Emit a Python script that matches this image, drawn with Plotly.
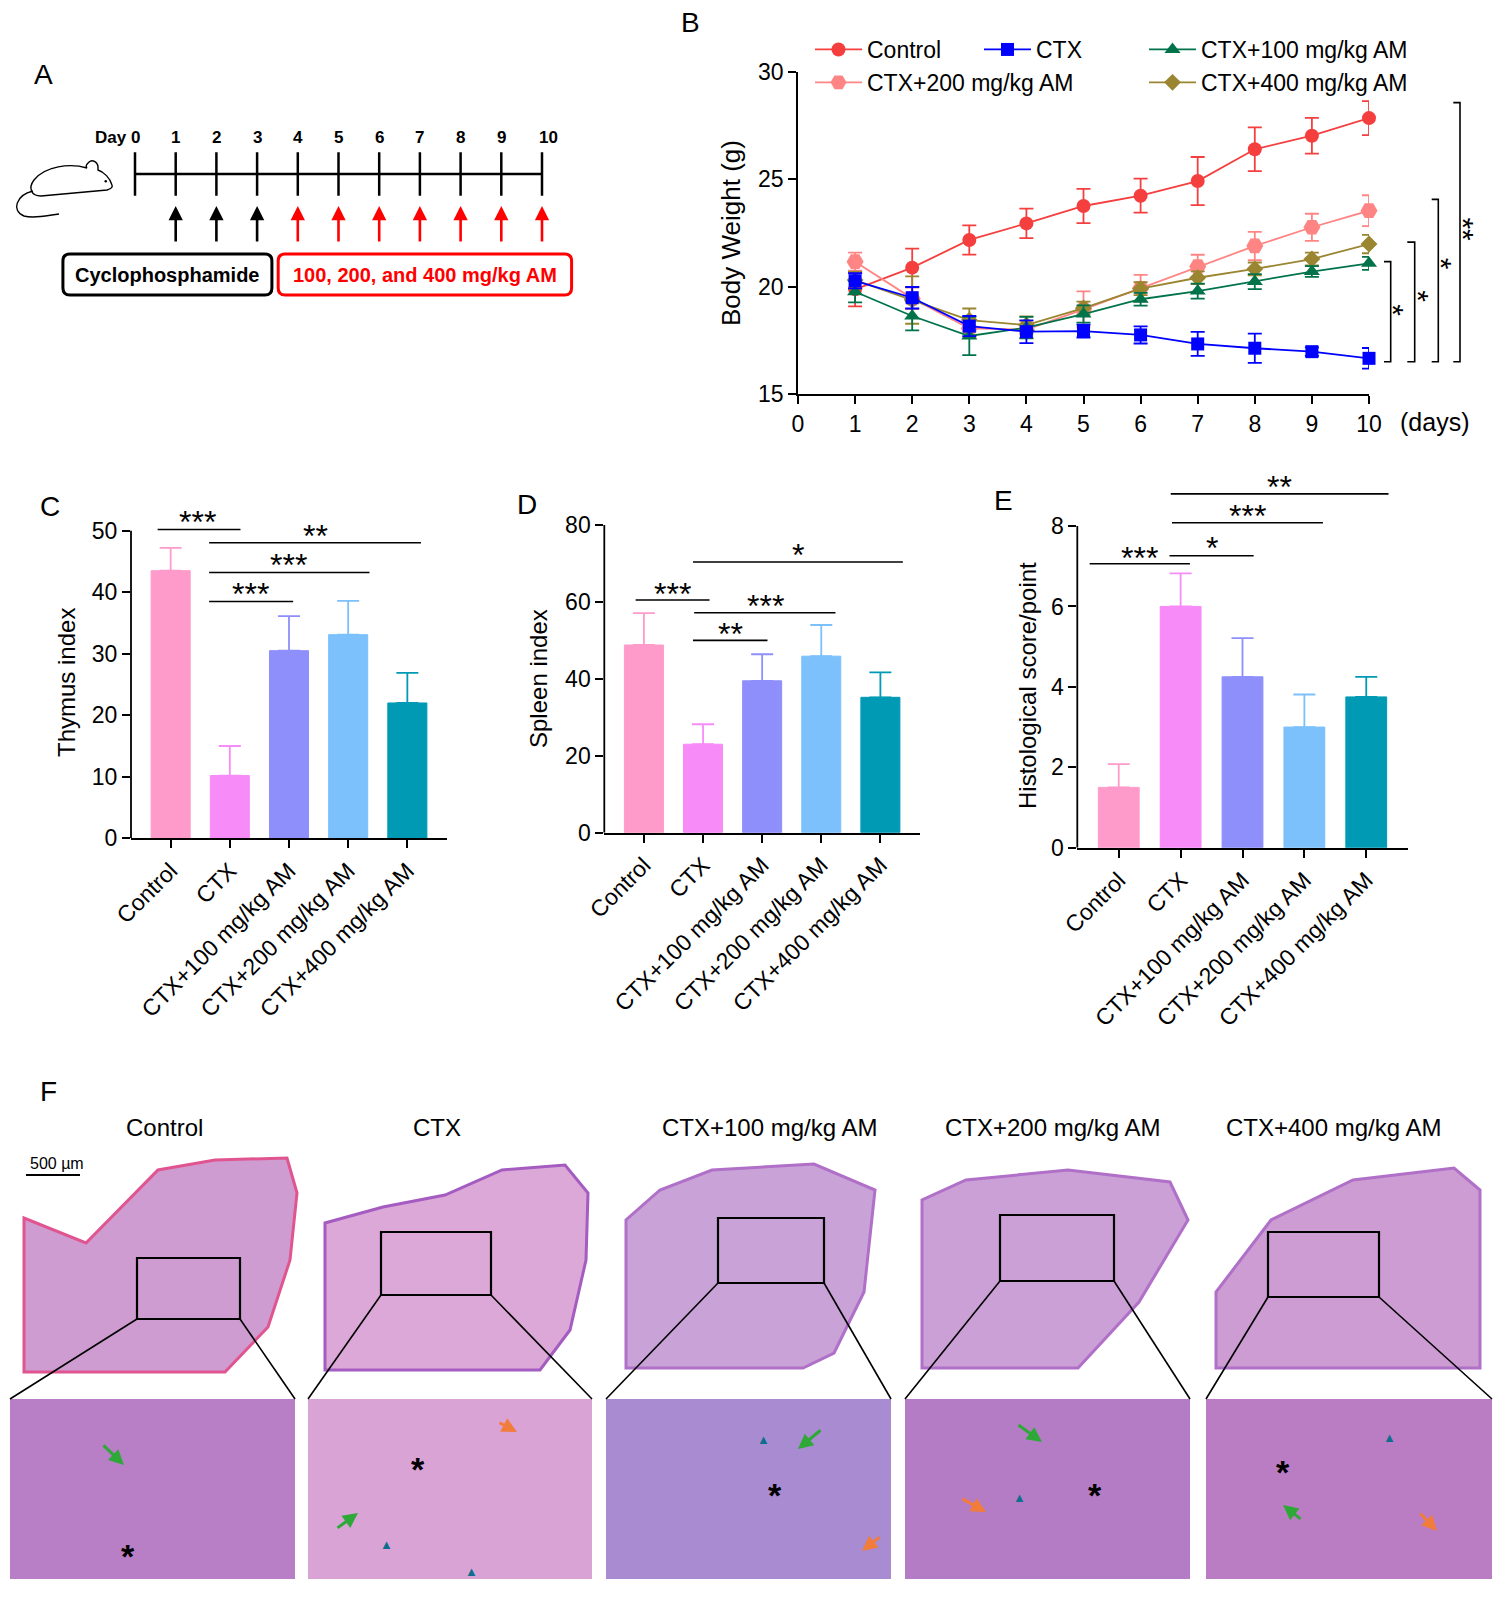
import plotly.graph_objects as go

W, H = 1508, 1597


def px(x):
    return x / W


def py(y):
    return 1 - y / H


# ---------------- data ----------------
# Panel A: dosing schedule
days_a = list(range(11))
cyclo_days = [1, 2, 3]
am_days = [4, 5, 6, 7, 8, 9, 10]

# Panel B: body weight (g), mean and SD per day
days = [1, 2, 3, 4, 5, 6, 7, 8, 9, 10]
bw_control = [19.87, 20.88, 22.17, 22.94, 23.75, 24.23, 24.91, 26.39, 27.02, 27.84]
bw_control_sd = [0.79, 0.89, 0.68, 0.69, 0.8, 0.79, 1.12, 1.02, 0.83, 0.79]
bw_ctx = [20.27, 19.48, 18.16, 17.9, 17.93, 17.75, 17.33, 17.13, 16.97, 16.66]
bw_ctx_sd = [0.35, 0.5, 0.47, 0.53, 0.3, 0.4, 0.56, 0.68, 0.2, 0.48]
bw_am100 = [19.76, 18.63, 17.7, 18.09, 18.72, 19.41, 19.79, 20.23, 20.7, 21.08]
bw_am100_sd = [0.5, 0.67, 0.89, 0.5, 0.4, 0.3, 0.35, 0.35, 0.25, 0.3]
bw_am200 = [21.16, 19.45, 18.05, 18.0, 18.94, 19.92, 20.93, 21.89, 22.76, 23.53]
bw_am200_sd = [0.42, 0.5, 0.4, 0.4, 0.84, 0.62, 0.55, 0.66, 0.63, 0.72]
bw_am400 = [20.3, 19.37, 18.44, 18.21, 19.0, 19.9, 20.41, 20.82, 21.28, 21.98]
bw_am400_sd = [0.4, 1.1, 0.54, 0.4, 0.3, 0.3, 0.3, 0.3, 0.3, 0.43]

# Panels C-E: organ indices and histological score
groups = ["Control", "CTX", "CTX+100 mg/kg AM", "CTX+200 mg/kg AM", "CTX+400 mg/kg AM"]
thymus = [43.5, 10.2, 30.5, 33.1, 22.0]
thymus_err = [3.7, 4.8, 5.6, 5.5, 4.9]
spleen = [48.8, 23.0, 39.5, 45.9, 35.2]
spleen_err = [8.3, 5.2, 6.9, 8.1, 6.5]
histo = [1.5, 6.0, 4.25, 3.0, 3.75]
histo_err = [0.58, 0.82, 0.96, 0.81, 0.5]

bar_colors = ["#FF9BCA", "#F78BF8", "#8F8FFC", "#7CC0FC", "#009AB5"]
line_colors = ["#F53F3F", "#0000FF", "#00734A", "#FF8585", "#9A8530"]

fig = go.Figure()
ann = []
shapes = []


def paper_text(x, y, text, size, angle=0, color="black"):
    # explicit anchors: paper annotations otherwise snap to edges by thirds
    ann.append(dict(x=px(x), y=py(y), xref="paper", yref="paper", text=text, textangle=angle,
                    showarrow=False, xanchor="center", yanchor="middle",
                    font=dict(size=size, color=color)))


# ---------------- A: schedule diagram ----------------
fig.add_trace(go.Scatter(x=[days_a[0], days_a[-1]], y=[174, 174], mode="lines",
                         line=dict(color="black", width=2.5), xaxis="x", yaxis="y",
                         showlegend=False, hoverinfo="skip"))
fig.add_trace(go.Scatter(x=days_a, y=[174] * len(days_a), mode="markers",
                         marker=dict(symbol="line-ns-open", size=31, color="black",
                                     line=dict(color="black", width=2.5)),
                         xaxis="x", yaxis="y", showlegend=False, hoverinfo="skip"))

for d in days_a:
    label = "Day 0" if d == 0 else str(d)
    ann.append(dict(x=d, y=137, xref="x", yref="y", text="<b>%s</b>" % label, showarrow=False,
                    xanchor="right" if d == 0 else "center", xshift=7 if d == 0 else (6 if d == 10 else 0),
                    font=dict(size=17, color="black")))

for d in cyclo_days + am_days:
    col = "black" if d in cyclo_days else "#FF0000"
    ann.append(dict(x=d, y=206, xref="x", yref="y", ax=d, ay=243, axref="x", ayref="y",
                    text="", showarrow=True, arrowhead=2, arrowsize=1.1, arrowwidth=2.6,
                    arrowcolor=col))


def rounded_box(x0, x1, y0, y1, rx, ry):
    return ("M{a},{y0} L{b},{y0} Q{x1},{y0} {x1},{c} L{x1},{d} Q{x1},{y1} {b},{y1} "
            "L{a},{y1} Q{x0},{y1} {x0},{d} L{x0},{c} Q{x0},{y0} {a},{y0} Z").format(
        a=x0 + rx, b=x1 - rx, c=y0 + ry, d=y1 - ry, x0=x0, x1=x1, y0=y0, y1=y1)


day_px = 40.7
shapes.append(dict(type="path", xref="x", yref="y", path=rounded_box(-1.771, 3.364, 254, 295, 7 / day_px, 7),
                   line=dict(color="black", width=3)))
shapes.append(dict(type="path", xref="x", yref="y", path=rounded_box(3.518, 10.727, 254, 295, 7 / day_px, 7),
                   line=dict(color="#FF0000", width=3)))
ann.append(dict(x=0.797, y=275, xref="x", yref="y", text="<b>Cyclophosphamide</b>", showarrow=False,
                font=dict(size=20, color="black")))
ann.append(dict(x=7.12, y=275, xref="x", yref="y", text="<b>100, 200, and 400 mg/kg AM</b>", showarrow=False,
                font=dict(size=20, color="#FF0000")))

# mouse outline (page pixels)
shapes.append(dict(type="path", xref="x6", yref="y6",
                   path="M112,185 C110,178 104,172 98,170 C99,162 92,158 88,163 C86,165 86,167 87,168 "
                        "C70,163 45,166 34,180 C28,188 31,196 41,196 L107,190 C111,189 113,187 112,185 Z",
                   line=dict(color="black", width=1.4), fillcolor="white"))
shapes.append(dict(type="path", xref="x6", yref="y6",
                   path="M33,191 C16,195 11,211 24,216 C35,219 49,215 59,214",
                   line=dict(color="black", width=1.4)))
shapes.append(dict(type="circle", xref="x6", yref="y6", x0=104.5, x1=107, y0=180, y1=182.5,
                   fillcolor="black", line=dict(width=0)))

# ---------------- B: body weight ----------------
series = [
    ("Control", bw_control, bw_control_sd, line_colors[0], "circle", 14, "legend", 1),
    ("CTX+200 mg/kg AM", bw_am200, bw_am200_sd, line_colors[3], "hexagon2", 17, "legend", 2),
    ("CTX+400 mg/kg AM", bw_am400, bw_am400_sd, line_colors[4], "diamond", 13, "legend3", 2),
    ("CTX+100 mg/kg AM", bw_am100, bw_am100_sd, line_colors[2], "triangle-up", 14, "legend3", 1),
    ("CTX", bw_ctx, bw_ctx_sd, line_colors[1], "square", 13, "legend2", 1),
]
for name, vals, sd, col, sym, size, leg, rank in series:
    fig.add_trace(go.Scatter(
        x=days, y=vals, name=name, mode="lines+markers",
        line=dict(color=col, width=1.8),
        marker=dict(symbol=sym, size=size, color=col),
        error_y=dict(type="data", array=sd, color=col, thickness=1.8, width=7),
        xaxis="x2", yaxis="y2", legend=leg, legendrank=rank, cliponaxis=False))

# significance brackets on the right of B
b_brackets = [(1384, 1390.7, 21.16, "*", 1399, 18.9),
              (1407.3, 1414.7, 22.07, "*", 1423.3, 19.53),
              (1431.7, 1438.3, 24.06, "*", 1446.7, 21.08),
              (1453.3, 1460, 28.56, "**", 1469, 22.66)]
for xt, xv, ytop, lab, xtx, ytx in b_brackets:
    shapes.append(dict(type="path", xref="paper", yref="y2",
                       path="M{a},{t} L{b},{t} L{b},{u} L{a},{u}".format(a=px(xt), b=px(xv), t=ytop, u=16.5),
                       line=dict(color="black", width=1.6)))
    ann.append(dict(x=px(xtx), y=ytx, xref="paper", yref="y2", text=lab, textangle=90, showarrow=False,
                    xanchor="center", yanchor="middle", font=dict(size=30, color="black"), xshift=-5))

paper_text(731, 233, "Body Weight (g)", 26, angle=-90)
paper_text(1434, 422, "(days)", 25)


# ---------------- C, D, E: bar panels ----------------
def bar_panel(n, vals, errs, axis_top, sigs):
    xa, ya = "x%d" % n, "y%d" % n
    for i in range(len(groups)):
        fig.add_trace(go.Bar(
            x=[i], y=[vals[i]], width=0.66, showlegend=False,
            marker=dict(color=bar_colors[i], line=dict(color=bar_colors[i], width=1)),
            error_y=dict(type="data", array=[errs[i]], arrayminus=[0], symmetric=False,
                         color=bar_colors[i], thickness=1.8, width=11),
            xaxis=xa, yaxis=ya))
    shapes.append(dict(type="line", xref=xa + " domain", yref=ya, x0=0, x1=0, y0=0, y1=axis_top,
                       line=dict(color="black", width=1.8)))
    for x0, x1, yl, lab, xt, yt in sigs:
        shapes.append(dict(type="line", xref=xa, yref=ya, x0=x0, x1=x1, y0=yl, y1=yl,
                           line=dict(color="black", width=1.6)))
        ann.append(dict(x=xt, y=yt, xref=xa, yref=ya, text=lab, showarrow=False, yshift=-10,
                        font=dict(size=32, color="black")))


bar_panel(3, thymus, thymus_err, 50,
          [(-0.22, 1.18, 50.2, "***", 0.46, 53.0), (0.65, 4.23, 48.05, "**", 2.44, 50.8),
           (0.65, 3.36, 43.2, "***", 1.99, 46.0), (0.65, 2.07, 38.5, "***", 1.35, 41.3)])
bar_panel(4, spleen, spleen_err, 80,
          [(0.83, 4.38, 70.4, "*", 2.6, 74.8), (-0.14, 1.11, 60.5, "***", 0.49, 64.6),
           (0.85, 3.24, 57.2, "***", 2.05, 61.5), (0.83, 2.09, 50.0, "**", 1.46, 54.2)])
bar_panel(5, histo, histo_err, 8,
          [(-0.47, 1.15, 7.06, "***", 0.34, 7.46), (0.82, 2.18, 7.26, "*", 1.5, 7.69),
           (0.86, 3.3, 8.08, "***", 2.08, 8.5), (0.84, 4.36, 8.8, "**", 2.6, 9.23)])

paper_text(66, 683, "Thymus index", 24, angle=-90)
paper_text(538, 679, "Spleen index", 24, angle=-90)
paper_text(1027, 686, "Histological score/point", 24, angle=-90)

# ---------------- F: histology (schematic tiles) ----------------
f_titles = ["Control", "CTX", "CTX+100 mg/kg AM", "CTX+200 mg/kg AM", "CTX+400 mg/kg AM"]
title_x = [164, 437, 769, 1052, 1333]
for t, xc in zip(f_titles, title_x):
    ann.append(dict(x=xc, y=1127, xref="x6", yref="y6", text=t, showarrow=False, font=dict(size=24)))

overview = [
    ("M24,1372 L24,1218 L86,1243 L158,1170 L215,1160 L287,1158 L297,1193 L290,1260 L268,1327 L225,1372 Z",
     "#CF9CD2", "#E0558F"),
    ("M325,1370 L325,1223 L383,1207 L445,1195 L502,1170 L565,1165 L588,1193 L586,1260 L570,1330 L540,1370 Z",
     "#DCA8D8", "#A45CC0"),
    ("M626,1368 L626,1220 L660,1190 L712,1170 L814,1164 L875,1190 L864,1292 L834,1353 L803,1368 Z",
     "#C9A2D8", "#B070C8"),
    ("M922,1368 L922,1200 L966,1180 L1068,1170 L1170,1182 L1188,1220 L1139,1302 L1078,1368 Z",
     "#CBA0D6", "#B070C8"),
    ("M1216,1368 L1216,1292 L1271,1220 L1353,1180 L1454,1168 L1480,1190 L1480,1368 Z",
     "#CC9CD2", "#B070C8"),
]
for path, fill, edge in overview:
    shapes.append(dict(type="path", xref="x6", yref="y6", path=path, fillcolor=fill,
                       line=dict(color=edge, width=3), layer="below"))

windows = [(137, 240, 1258, 1319), (381, 491, 1232, 1295), (718, 824, 1218, 1283),
           (1000, 1114, 1215, 1281), (1268, 1379, 1232, 1297)]
tiles = [(10, 295), (308, 592), (606, 891), (905, 1190), (1206, 1492)]
tile_fill = ["#B87FC6", "#D9A3D6", "#A98BD2", "#B57CC6", "#BA7DC4"]
for (wx0, wx1, wy0, wy1), (tx0, tx1), fill in zip(windows, tiles, tile_fill):
    shapes.append(dict(type="rect", xref="x6", yref="y6", x0=tx0, x1=tx1, y0=1399, y1=1579,
                       fillcolor=fill, line=dict(width=0), layer="below"))
    shapes.append(dict(type="rect", xref="x6", yref="y6", x0=wx0, x1=wx1, y0=wy0, y1=wy1,
                       line=dict(color="black", width=2.2)))
    shapes.append(dict(type="line", xref="x6", yref="y6", x0=wx0, y0=wy1, x1=tx0, y1=1399,
                       line=dict(color="black", width=1.6)))
    shapes.append(dict(type="line", xref="x6", yref="y6", x0=wx1, y0=wy1, x1=tx1, y1=1399,
                       line=dict(color="black", width=1.6)))

# scale bar
shapes.append(dict(type="line", xref="x6", yref="y6", x0=26, x1=80, y0=1175, y1=1175,
                   line=dict(color="black", width=2)))
ann.append(dict(x=57, y=1163, xref="x6", yref="y6", text="500 µm", showarrow=False, font=dict(size=16)))

# markers inside magnified tiles
marks_star = [(128, 1548), (418, 1461), (775, 1487), (1095, 1487), (1283, 1464)]
for x, y in marks_star:
    ann.append(dict(x=x, y=y, xref="x6", yref="y6", text="<b>*</b>", showarrow=False, yshift=-8,
                    font=dict(size=34, color="black")))
marks_tri = [(386, 1544), (471, 1571), (763, 1439), (1019, 1497), (1389, 1437)]
for x, y in marks_tri:
    ann.append(dict(x=x, y=y, xref="x6", yref="y6", text="▲", showarrow=False,
                    font=dict(size=13, color="#0E6E8C")))
marks_arrow = [(124, 1465, 102, 1444, "#2EA836"), (358, 1513, 336, 1529, "#2EA836"),
               (517, 1432, 498, 1422, "#F27C3A"), (798, 1449, 822, 1429, "#2EA836"),
               (862, 1551, 881, 1536, "#F27C3A"), (1042, 1442, 1017, 1424, "#2EA836"),
               (986, 1512, 961, 1498, "#F27C3A"), (1283, 1505, 1302, 1520, "#2EA836"),
               (1437, 1531, 1419, 1512, "#F27C3A")]
for x, y, x0, y0, col in marks_arrow:
    ann.append(dict(x=x, y=y, ax=x0, ay=y0, xref="x6", yref="y6", axref="x6", ayref="y6", text="",
                    showarrow=True, arrowhead=2, arrowsize=1, arrowwidth=3, arrowcolor=col))

# invisible anchor trace for the page-pixel axis
fig.add_trace(go.Scatter(x=[0], y=[0], mode="markers", marker=dict(opacity=0), xaxis="x6", yaxis="y6",
                         showlegend=False, hoverinfo="skip"))

# panel letters
for lab, x, y in [("A", 43, 74), ("B", 690, 22), ("C", 50, 507), ("D", 527, 505), ("E", 1003, 500), ("F", 48, 1091)]:
    paper_text(x, y, lab, 28)

# ---------------- axes ----------------
axis_style = dict(showgrid=False, zeroline=False, ticks="outside", ticklen=8, tickwidth=1.8,
                  tickcolor="black", tickfont=dict(size=23), linecolor="black", linewidth=1.8,
                  automargin=False)

layout_axes = dict(
    xaxis=dict(domain=[0, px(603.2)], range=[-135 / day_px, (603.2 - 135) / day_px], visible=False,
               anchor="y", automargin=False),
    yaxis=dict(domain=[py(320), py(30)], range=[320, 30], visible=False, anchor="x", automargin=False),
    xaxis2=dict(domain=[px(798), px(1369)], range=[0, 10], anchor="y2", showline=True,
                tickvals=days_a, **axis_style),
    yaxis2=dict(domain=[py(394), py(71.7)], range=[15, 30], anchor="x2", showline=True,
                tickvals=[15, 20, 25, 30], **axis_style),
    xaxis6=dict(domain=[0, 1], range=[0, W], visible=False, anchor="y6", automargin=False),
    yaxis6=dict(domain=[0, 1], range=[H, 0], visible=False, anchor="x6", automargin=False),
)
bar_axes = [(3, 131, 447, 838.3, 6.152, 56, [0, 10, 20, 30, 40, 50]),
            (4, 604.3, 920, 832.7, 3.846, 80, [0, 20, 40, 60, 80]),
            (5, 1077.3, 1407.7, 847.7, 40.21, 9.5, [0, 2, 4, 6, 8])]
for n, xl, xr, ybase, scale, ytop, ticks in bar_axes:
    layout_axes["xaxis%d" % n] = dict(domain=[px(xl), px(xr)], range=[-0.67, 4.67], anchor="y%d" % n,
                                      showline=True, tickvals=list(range(len(groups))), ticktext=groups,
                                      tickangle=-45, **axis_style)
    layout_axes["yaxis%d" % n] = dict(domain=[py(ybase), py(ybase - ytop * scale)], range=[0, ytop],
                                      anchor="x%d" % n, showline=False, tickvals=ticks, **axis_style)

legend_style = dict(yanchor="top", xanchor="left", font=dict(size=23, color="black"),
                    bgcolor="rgba(0,0,0,0)", itemwidth=47, tracegroupgap=0, orientation="v")

fig.update_layout(
    template="none",
    width=W, height=H, margin=dict(l=0, r=0, t=0, b=0, pad=0, autoexpand=False),
    paper_bgcolor="white", plot_bgcolor="rgba(0,0,0,0)",
    font=dict(family="Arial, Liberation Sans, sans-serif", size=22, color="black"),
    barmode="overlay", showlegend=True,
    legend=dict(x=px(810), y=py(28), **legend_style),
    legend2=dict(x=px(979), y=py(28), **legend_style),
    legend3=dict(x=px(1144), y=py(28), **legend_style),
    shapes=shapes, annotations=ann,
    **layout_axes,
)

# drop the browser's default 8px body margin so the figure sits at the page origin
fig.write_html("out.html", config={"displayModeBar": False},
               post_script="document.body.style.margin = '0px';")
